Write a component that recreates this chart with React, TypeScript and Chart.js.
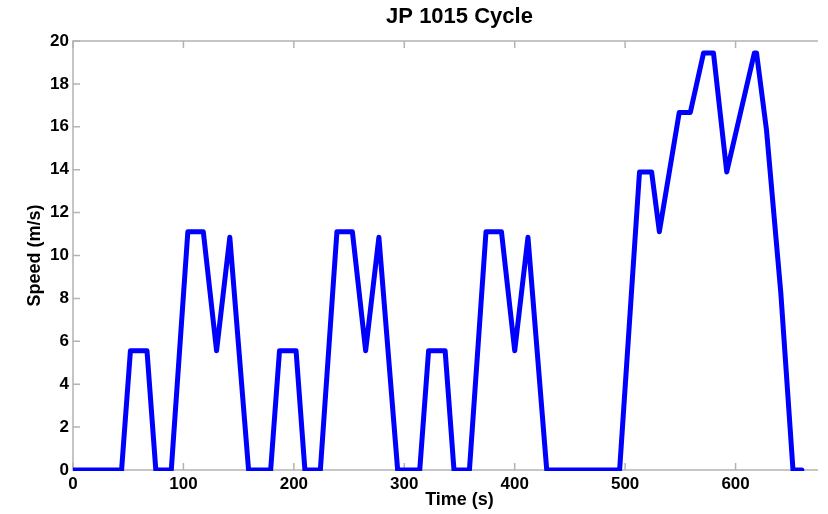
import React, { useEffect, useRef } from "react";
import { Chart, registerables } from "chart.js";

Chart.register(...registerables);

const TITLE = "JP 1015 Cycle";
const X_LABEL = "Time (s)";
const Y_LABEL = "Speed (m/s)";

const TIME_S = [
  0, 44, 52, 67, 75, 89, 104, 118, 130, 142, 159,
  179, 187, 202, 210, 224, 239, 253, 265, 277, 294,
  314, 322, 337, 345, 359, 374, 388, 400, 412, 429,
  495, 513, 524, 531, 549, 559, 571, 580, 592, 617, 619, 628, 641, 652, 660,
];
const SPEED_MS = [
  0, 0, 5.56, 5.56, 0, 0, 11.11, 11.11, 5.56, 10.85, 0,
  0, 5.56, 5.56, 0, 0, 11.11, 11.11, 5.56, 10.85, 0,
  0, 5.56, 5.56, 0, 0, 11.11, 11.11, 5.56, 10.85, 0,
  0, 13.89, 13.89, 11.11, 16.67, 16.67, 19.44, 19.44, 13.89, 19.44, 19.44, 15.85, 8.24, 0, 0,
];

const X_TICKS = [0, 100, 200, 300, 400, 500, 600, 700];
const Y_TICKS = [0, 2, 4, 6, 8, 10, 12, 14, 16, 18, 20];

const FONT = '"Liberation Sans", Arial, Helvetica, sans-serif';

const axisBox = {
  id: "axisBox",
  beforeDatasetsDraw(chart: any) {
    const { ctx, chartArea, scales } = chart;
    const { left, right, top, bottom } = chartArea;
    const x = scales.x;
    const y = scales.y;
    const tl = 7;
    ctx.save();
    ctx.strokeStyle = "#b3b3b3";
    ctx.lineWidth = 1.5;
    ctx.strokeRect(left, top, right - left, bottom - top);
    ctx.beginPath();
    X_TICKS.forEach((v) => {
      const px = x.getPixelForValue(v);
      ctx.moveTo(px, bottom);
      ctx.lineTo(px, bottom - tl);
      ctx.moveTo(px, top);
      ctx.lineTo(px, top + tl);
    });
    Y_TICKS.forEach((v) => {
      const py = y.getPixelForValue(v);
      ctx.moveTo(left, py);
      ctx.lineTo(left + tl, py);
      ctx.moveTo(right, py);
      ctx.lineTo(right - tl, py);
    });
    ctx.stroke();
    ctx.restore();
  },
};

export default function App() {
  const canvasRef = useRef<HTMLCanvasElement | null>(null);

  useEffect(() => {
    if (!canvasRef.current) return;
    const points = TIME_S.map((t, i) => ({ x: t, y: SPEED_MS[i] }));
    const chart = new Chart(canvasRef.current, {
      type: "line",
      data: {
        datasets: [
          {
            data: points,
            borderColor: "#0000ff",
            backgroundColor: "#0000ff",
            borderWidth: 5,
            pointRadius: 0,
            tension: 0,
            fill: false,
            borderJoinStyle: "round",
            borderCapStyle: "round",
            clip: { left: 0, top: 0, right: 0, bottom: 1 },
          } as any,
        ],
      },
      options: {
        animation: false,
        responsive: false,
        layout: { padding: { left: 0, right: 24, top: 0, bottom: 0 } },
        plugins: {
          legend: { display: false },
          tooltip: { enabled: false },
          title: {
            display: true,
            text: TITLE,
            fullSize: false,
            color: "#000",
            font: { family: FONT, size: 22, weight: "bold" },
            padding: { top: 4, bottom: 10.6 },
          },
        },
        scales: {
          x: {
            type: "linear",
            min: 0,
            max: 700,
            afterFit: (s: any) => {
              s.height = 44;
            },
            grid: { display: false, drawTicks: false },
            border: { display: false },
            ticks: {
              stepSize: 100,
              autoSkip: false,
              maxRotation: 0,
              padding: 4,
              color: "#000",
              font: { family: FONT, size: 17, weight: "bold" },
            },
            title: {
              display: true,
              text: X_LABEL,
              color: "#000",
              font: { family: FONT, size: 18, weight: "bold" },
              padding: { top: 0, bottom: 3.2 },
            },
          },
          y: {
            type: "linear",
            min: 0,
            max: 20,
            afterFit: (s: any) => {
              s.width = 73;
            },
            grid: { display: false, drawTicks: false },
            border: { display: false },
            ticks: {
              stepSize: 2,
              autoSkip: false,
              padding: 4,
              color: "#000",
              font: { family: FONT, size: 17, weight: "bold" },
            },
            title: {
              display: true,
              text: Y_LABEL,
              color: "#000",
              font: { family: FONT, size: 18, weight: "bold" },
              padding: { top: 24, bottom: 0 },
            },
          },
        },
      } as any,
      plugins: [axisBox],
    });
    return () => chart.destroy();
  }, []);

  return (
    <div
      style={{
        position: "absolute",
        left: 0,
        top: 0,
        width: 818,
        height: 514,
        overflow: "hidden",
        background: "#fff",
      }}
    >
      <canvas
        ref={canvasRef}
        width={870}
        height={514}
        style={{ display: "block", width: 870, height: 514 }}
      />
    </div>
  );
}
